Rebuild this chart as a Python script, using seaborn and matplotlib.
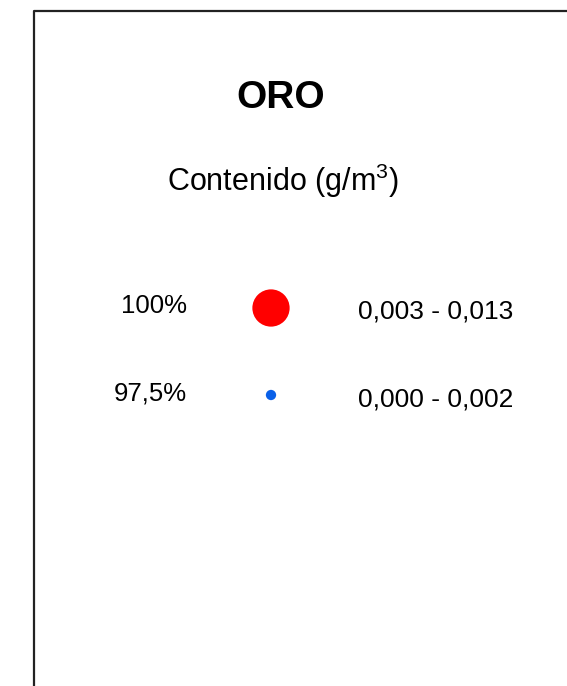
import matplotlib
matplotlib.use("Agg")
import matplotlib.pyplot as plt
import pandas as pd
import seaborn as sns

# legend content
title = "ORO"
subtitle = "Contenido (g/m$^{3}$)"
percent_labels = ["100%", "97,5%"]
range_labels = ["0,003 - 0,013", "0,000 - 0,002"]
class_colors = ["#FF0000", "#0A60E8"]
class_sizes = [720, 55]

sns.set_theme(style="white")
plt.rcParams['font.family'] = ['Liberation Sans', 'DejaVu Sans']
plt.rcParams['mathtext.fontset'] = 'custom'
plt.rcParams['mathtext.rm'] = 'Liberation Sans'
plt.rcParams['mathtext.it'] = 'Liberation Sans'
plt.rcParams['text.color'] = 'black'

df = pd.DataFrame({
    "pct": percent_labels,
    "rng": range_labels,
    "row": [308, 395],
    "col": [271, 271],
})

fig = plt.figure(figsize=(5.67, 6.86), dpi=100)
ax = fig.add_axes([0, 0, 1, 1])
ax.set_xlim(0, 567)
ax.set_ylim(686, 0)
ax.axis("off")

# frame (only top and left edges visible)
ax.plot([34, 34, 600], [700, 11, 11], color="#222222", lw=1.6, solid_capstyle="butt")

sns.scatterplot(data=df, x="col", y="row", hue="rng", palette=class_colors,
                size="rng", sizes=dict(zip(range_labels, class_sizes)),
                linewidth=0, legend=False, ax=ax)

ax.text(281, 108, title, ha="center", va="baseline", fontsize=28, fontweight="bold")
ax.text(283, 191, subtitle, ha="center", va="baseline", fontsize=22)

for _, r in df.iterrows():
    ax.text(187, r["row"] + 5, r["pct"], ha="right", va="baseline", fontsize=18.5)
    ax.text(358, r["row"] + 11, r["rng"], ha="left", va="baseline", fontsize=19)

fig.savefig("out.png", dpi=100)
